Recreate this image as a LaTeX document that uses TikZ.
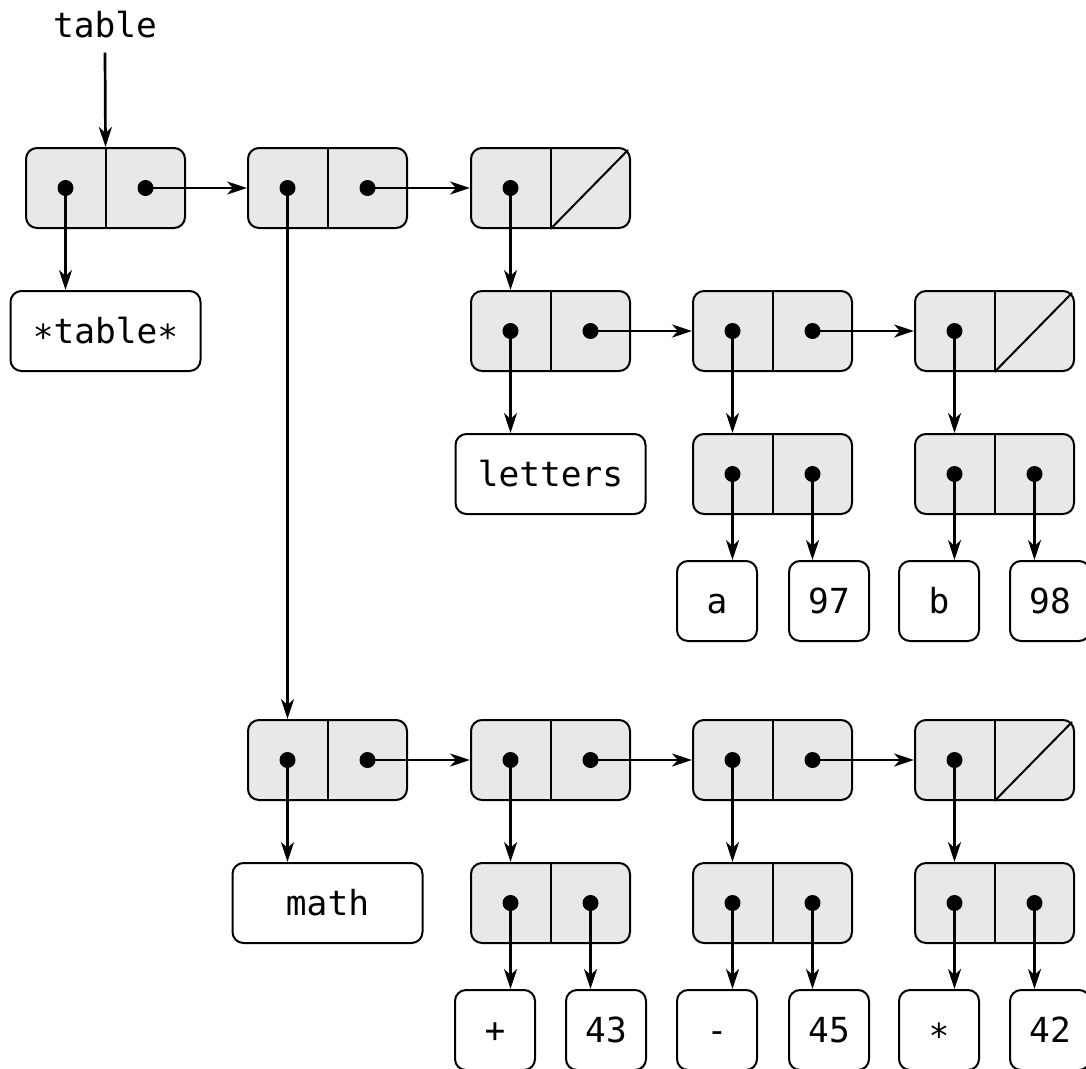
\documentclass[tikz,border=0pt]{standalone}
\usepackage{fontspec}
\setmonofont{DejaVu Sans Mono}
\usetikzlibrary{arrows.meta,calc}
\definecolor{cellgray}{RGB}{232,232,232}
\newcommand\lowstar{\raisebox{-6pt}{*}}
\tikzset{
  cellbox/.style={draw=black, line width=2pt, fill=cellgray, rounded corners=11pt,
    minimum width=159pt, minimum height=80pt, inner sep=0pt},
  txtbox/.style={draw=black, line width=2pt, fill=white, rounded corners=11pt,
    minimum height=80pt, inner sep=0pt, text height=25pt, text depth=0pt,
    font=\fontsize{34.5pt}{40pt}\selectfont\ttfamily},
  leafbox/.style={txtbox, minimum width=80pt},
  widebox/.style={txtbox, minimum width=190pt},
  ptr/.style={line width=2.7pt, -{Stealth[length=20pt,width=13pt,inset=6pt]}},
  divider/.style={line width=2pt},
}
% cons cell: name, x, y ; dots drawn for car and cdr
\newcommand\conscell[3]{%
  \node[cellbox] (#1) at (#2,#3) {};
  \draw[divider] (#1.north) -- (#1.south);
  \coordinate (#1-a) at ($(#1.center)+(-40,0)$);
  \coordinate (#1-d) at ($(#1.center)+(40,0)$);
  \fill (#1-a) circle[radius=8pt];
  \fill (#1-d) circle[radius=8pt];
}
% nil-terminated cell: car dot only, diagonal in cdr
\newcommand\nilcell[3]{%
  \node[cellbox] (#1) at (#2,#3) {};
  \draw[divider] (#1.north) -- (#1.south);
  \draw[divider] (#1.south) -- ($(#1.north east)+(-3,3)$);
  \coordinate (#1-a) at ($(#1.center)+(-40,0)$);
  \fill (#1-a) circle[radius=8pt];
}
\begin{document}
\begin{tikzpicture}[x=1pt,y=-1pt]
\useasboundingbox (0,0) rectangle (1086,1068);
\clip (0,0) rectangle (1086,1068);

% label
\node[inner sep=0pt, font=\fontsize{34.5pt}{40pt}\selectfont\ttfamily] (lbl) at (105,25) {table};

% top list
\conscell{c1}{105.5}{188}
\conscell{c2}{327.5}{188}
\nilcell{c3}{550.5}{188}
\node[widebox] (stab) at (105.5,331) {\lowstar table\lowstar};

% letters list
\conscell{r2c1}{550.5}{331}
\conscell{r2c2}{772.5}{331}
\nilcell{r2c3}{994.5}{331}
\node[widebox] (letters) at (550.5,474) {letters};
\conscell{p1}{772.5}{474}
\conscell{p2}{994.5}{474}
\node[leafbox] (la) at (717,601) {a};
\node[leafbox] (l97) at (829,601) {97};
\node[leafbox] (lb) at (939,601) {b};
\node[leafbox] (l98) at (1050,601) {98};

% math list
\conscell{r4c1}{327.5}{760}
\conscell{r4c2}{550.5}{760}
\conscell{r4c3}{772.5}{760}
\nilcell{r4c4}{994.5}{760}
\node[widebox] (math) at (327.5,903) {math};
\conscell{q1}{550.5}{903}
\conscell{q2}{772.5}{903}
\conscell{q3}{994.5}{903}
\node[leafbox] (lplus) at (495,1030) {+};
\node[leafbox] (l43) at (606,1030) {43};
\node[leafbox] (lminus) at (717,1030) {-};
\node[leafbox] (l45) at (829,1030) {45};
\node[leafbox] (lstar) at (939,1030) {\lowstar};
\node[leafbox] (l42) at (1050,1030) {42};

% connectors
\draw[ptr] ($(lbl.south)+(0,14)$) -- (c1.north);
\draw[ptr] (c1-a) -- (c1-a |- stab.north);
\draw[ptr] (c1-d) -- (c2.west);
\draw[ptr] (c2-d) -- (c3.west);
\draw[ptr] (c2-a) -- (c2-a |- r4c1.north);
\draw[ptr] (c3-a) -- (c3-a |- r2c1.north);

\draw[ptr] (r2c1-a) -- (r2c1-a |- letters.north);
\draw[ptr] (r2c1-d) -- (r2c2.west);
\draw[ptr] (r2c2-d) -- (r2c3.west);
\draw[ptr] (r2c2-a) -- (r2c2-a |- p1.north);
\draw[ptr] (r2c3-a) -- (r2c3-a |- p2.north);
\draw[ptr] (p1-a) -- (p1-a |- la.north);
\draw[ptr] (p1-d) -- (p1-d |- l97.north);
\draw[ptr] (p2-a) -- (p2-a |- lb.north);
\draw[ptr] (p2-d) -- (p2-d |- l98.north);

\draw[ptr] (r4c1-a) -- (r4c1-a |- math.north);
\draw[ptr] (r4c1-d) -- (r4c2.west);
\draw[ptr] (r4c2-d) -- (r4c3.west);
\draw[ptr] (r4c3-d) -- (r4c4.west);
\draw[ptr] (r4c2-a) -- (r4c2-a |- q1.north);
\draw[ptr] (r4c3-a) -- (r4c3-a |- q2.north);
\draw[ptr] (r4c4-a) -- (r4c4-a |- q3.north);
\draw[ptr] (q1-a) -- (q1-a |- lplus.north);
\draw[ptr] (q1-d) -- (q1-d |- l43.north);
\draw[ptr] (q2-a) -- (q2-a |- lminus.north);
\draw[ptr] (q2-d) -- (q2-d |- l45.north);
\draw[ptr] (q3-a) -- (q3-a |- lstar.north);
\draw[ptr] (q3-d) -- (q3-d |- l42.north);
\end{tikzpicture}
\end{document}
